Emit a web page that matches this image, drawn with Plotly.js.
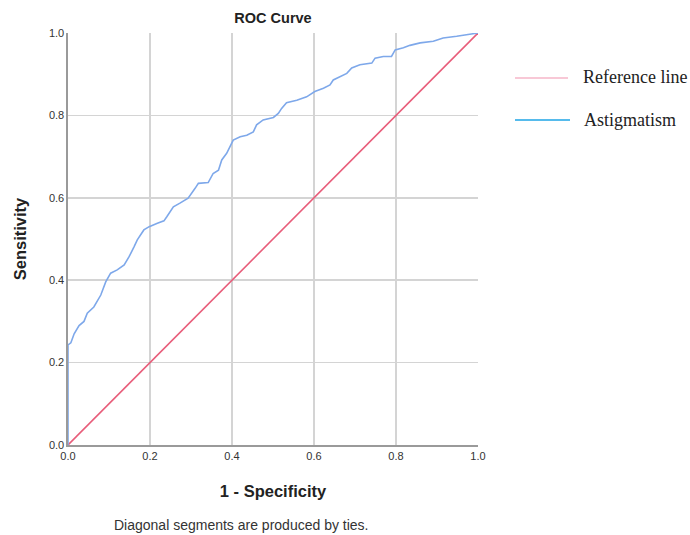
<!DOCTYPE html>
<html>
<head>
<meta charset="utf-8">
<script src="https://cdn.plot.ly/plotly-3.0.1.min.js"></script>
<style>html,body{margin:0;padding:0;background:#fff;}#chart{width:690px;height:535px;}</style>
</head>
<body>
<div id="chart"></div>
<script>
// 1 - Specificity (false positive rate) for Astigmatism curve
var fpr = [0, 0, 0.007, 0.015, 0.027, 0.039, 0.047, 0.063, 0.08, 0.092, 0.104, 0.12, 0.137, 0.149, 0.161, 0.169, 0.185, 0.198, 0.218, 0.234, 0.241, 0.257, 0.273, 0.293, 0.31, 0.318, 0.342, 0.354, 0.367, 0.375, 0.387, 0.403, 0.42, 0.436, 0.452, 0.46, 0.476, 0.501, 0.513, 0.521, 0.533, 0.558, 0.582, 0.602, 0.623, 0.639, 0.647, 0.663, 0.68, 0.692, 0.712, 0.741, 0.749, 0.769, 0.789, 0.798, 0.818, 0.834, 0.859, 0.891, 0.915, 0.948, 0.976, 1];
// Sensitivity
var tpr = [0, 0.243, 0.248, 0.27, 0.29, 0.30, 0.32, 0.335, 0.364, 0.396, 0.417, 0.425, 0.437, 0.457, 0.481, 0.498, 0.522, 0.53, 0.538, 0.544, 0.554, 0.578, 0.587, 0.599, 0.623, 0.635, 0.637, 0.659, 0.667, 0.692, 0.708, 0.74, 0.748, 0.752, 0.76, 0.777, 0.789, 0.795, 0.805, 0.817, 0.831, 0.837, 0.845, 0.858, 0.866, 0.874, 0.886, 0.894, 0.902, 0.915, 0.923, 0.927, 0.939, 0.943, 0.943, 0.959, 0.964, 0.97, 0.976, 0.98, 0.988, 0.992, 0.996, 1];
// Reference diagonal
var refX = [0, 1];
var refY = [0, 1];
var tickVals = [0, 0.2, 0.4, 0.6, 0.8, 1.0];
var tickText = ['0.0', '0.2', '0.4', '0.6', '0.8', '1.0'];
var seriesNames = ['Reference line', 'Astigmatism'];

var traces = [
  {x: refX, y: refY, mode: 'lines', name: seriesNames[0], line: {color: '#e85d7a', width: 1.6}, showlegend: false},
  {x: fpr, y: tpr, mode: 'lines', name: seriesNames[1], line: {color: '#7ea8ea', width: 1.6}, showlegend: false}
];

var sans = 'Liberation Sans, Arial, sans-serif';
var axisCommon = {
  range: [0, 1], tickvals: tickVals, ticktext: tickText, ticks: '',
  showgrid: true, gridcolor: '#d4d4d4', gridwidth: 1.6, zeroline: false,
  showline: true, linecolor: '#9a9a9a', linewidth: 1.6,
  tickfont: {family: sans, size: 11, color: '#333'},
  fixedrange: true
};

var layout = {
  width: 690, height: 535,
  margin: {l: 68, r: 212, t: 33, b: 90},
  paper_bgcolor: '#fff', plot_bgcolor: '#fff',
  title: {text: '<b>ROC Curve</b>', font: {family: sans, size: 14.5, color: '#222'},
          x: 0.5, xref: 'paper', xanchor: 'center', y: 0.966, yanchor: 'middle'},
  xaxis: Object.assign({}, axisCommon, {
    title: {text: '<b>1 - Specificity</b>', font: {family: sans, size: 16.5, color: '#222'}, standoff: 24}
  }),
  yaxis: Object.assign({}, axisCommon, {
    title: {text: '<b>Sensitivity</b>', font: {family: sans, size: 16.5, color: '#222'}, standoff: 18}
  }),
  shapes: [
    {type: 'line', xref: 'paper', yref: 'paper', x0: (515-68)/410, x1: (568-68)/410, y0: (445-78)/412, y1: (445-78)/412, line: {color: '#f6b6c8', width: 1.5}},
    {type: 'line', xref: 'paper', yref: 'paper', x0: (515-68)/410, x1: (570-68)/410, y0: (445-120)/412, y1: (445-120)/412, line: {color: '#1ea4e6', width: 1.5}}
  ],
  annotations: [
    {text: seriesNames[0], xref: 'paper', yref: 'paper', x: (581-68)/410, y: (445-77)/412, xanchor: 'left', yanchor: 'middle', showarrow: false,
     font: {family: 'Liberation Serif, Times New Roman, serif', size: 18, color: '#222'}},
    {text: seriesNames[1], xref: 'paper', yref: 'paper', x: (582-68)/410, y: (445-120)/412, xanchor: 'left', yanchor: 'middle', showarrow: false,
     font: {family: 'Liberation Serif, Times New Roman, serif', size: 18, color: '#222'}},
    {text: 'Diagonal segments are produced by ties.', xref: 'paper', yref: 'paper', x: (241-68)/410, y: (445-525)/412, xanchor: 'center', yanchor: 'middle', showarrow: false,
     font: {family: sans, size: 14, color: '#333'}}
  ]
};

Plotly.newPlot('chart', traces, layout, {staticPlot: true, displayModeBar: false});
</script>
</body>
</html>
